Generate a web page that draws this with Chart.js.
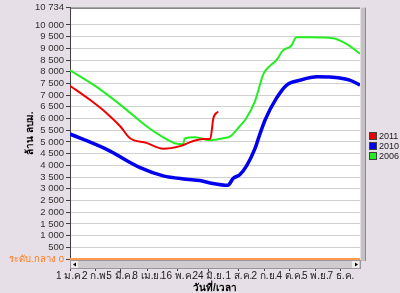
<!DOCTYPE html>
<html>
<head>
<meta charset="utf-8">
<script src="https://cdn.jsdelivr.net/npm/chart.js@4/dist/chart.umd.min.js"></script>
<style>
  html, body { margin: 0; padding: 0; background: #e7dfe7; }
  #wrap { width: 400px; height: 293px; }
</style>
</head>
<body>
<div id="wrap"><canvas id="dam-volume" width="400" height="293"></canvas></div>
<script>
// x = day of year (0 = 1 Jan), y = volume (million m3)
const days2011 = [0, 25, 46, 63, 75, 96, 117, 138, 154, 167, 176, 180, 186];
const vol2011 = [7400, 6800, 6230, 5670, 5170, 4960, 4710, 4820, 5030, 5130, 5130, 6020, 6300];

const days2010 = [0, 46, 88, 117, 146, 163, 176, 198, 205, 213, 222, 232, 238, 245, 259, 272, 289, 310, 330, 351, 364];
const vol2010 = [5340, 4680, 3900, 3550, 3410, 3350, 3250, 3150, 3450, 3600, 4000, 4700, 5300, 5950, 6860, 7430, 7640, 7780, 7760, 7640, 7430];

const days2006 = [0, 33, 66, 96, 117, 134, 142, 144, 157, 176, 191, 201, 213, 220, 232, 243, 251, 259, 267, 278, 284, 301, 330, 347, 364];
const vol2006 = [8060, 7360, 6510, 5670, 5200, 4920, 4900, 5150, 5200, 5070, 5150, 5240, 5670, 5950, 6720, 7920, 8250, 8490, 8900, 9120, 9470, 9470, 9430, 9190, 8770];

const tickDays = [0, 32, 63, 97, 135, 174, 212, 244, 276, 308, 340];
const tickLabels = ["1 ม.ค.", "2 ก.พ.", "5 มี.ค.", "8 เม.ย.", "16 พ.ค.", "24 มิ.ย.", "1 ส.ค.", "2 ก.ย.", "4 ต.ค.", "5 พ.ย.", "7 ธ.ค."];
const yTicks = [0, 500, 1000, 1500, 2000, 2500, 3000, 3500, 4000, 4500, 5000, 5500, 6000, 6500, 7000, 7500, 8000, 8500, 9000, 9500, 10000, 10734];

const seriesNames = ["2011", "2010", "2006"];
const seriesColors = ["#ee0000", "#0000ee", "#22ee22"];

const FONT = "Tahoma, 'Liberation Sans', 'Noto Sans', sans-serif";

const toPoints = (xs, ys) => xs.map((x, i) => ({ x: x, y: ys[i] }));

const fmt = (v) => String(v).replace(/\B(?=(\d{3})+(?!\d))/g, " ");

// plot background, orange base line, scroll bars, legend
const decor = {
  id: "decor",
  beforeDraw(chart) {
    const { ctx, chartArea: a } = chart;
    ctx.save();
    ctx.fillStyle = "#ffffff";
    ctx.fillRect(a.left, a.top, a.right - a.left, a.bottom - a.top);
    ctx.restore();
  },
  afterDraw(chart) {
    const { ctx, chartArea: a } = chart;
    ctx.save();
    // top border
    ctx.strokeStyle = "#505050";
    ctx.lineWidth = 1;
    ctx.beginPath();
    ctx.moveTo(a.left, a.top + 0.5);
    ctx.lineTo(a.right, a.top + 0.5);
    ctx.stroke();
    // orange zero line
    const y0 = chart.scales.y.getPixelForValue(0);
    ctx.strokeStyle = "#ff9a50";
    ctx.lineWidth = 2;
    ctx.beginPath();
    ctx.moveTo(a.left, y0);
    ctx.lineTo(a.right, y0);
    ctx.stroke();
    // horizontal scroll bar
    ctx.fillStyle = "#cfcbcf";
    ctx.fillRect(a.left, y0 + 1, a.right - a.left + 1, 9);
    ctx.strokeStyle = "#9a969a";
    ctx.lineWidth = 1;
    ctx.strokeRect(a.left + 0.5, y0 + 1.5, a.right - a.left, 8);
    ctx.fillStyle = "#eeeeee";
    ctx.fillRect(a.left + 1, y0 + 2, 7, 7);
    ctx.fillRect(a.right - 8, y0 + 2, 7, 7);
    ctx.fillStyle = "#000000";
    ctx.beginPath();
    ctx.moveTo(a.left + 3, y0 + 5.5);
    ctx.lineTo(a.left + 6, y0 + 3.5);
    ctx.lineTo(a.left + 6, y0 + 7.5);
    ctx.fill();
    ctx.beginPath();
    ctx.moveTo(a.right - 2, y0 + 5.5);
    ctx.lineTo(a.right - 5, y0 + 3.5);
    ctx.lineTo(a.right - 5, y0 + 7.5);
    ctx.fill();
    // vertical scroll bar
    ctx.fillStyle = "#c4c0c4";
    ctx.fillRect(a.right + 1, a.top, 5, y0 - a.top + 2);
    ctx.fillStyle = "#8e8a8e";
    ctx.fillRect(a.right + 5, a.top, 1, y0 - a.top + 2);
    // legend
    ctx.font = "9px " + FONT;
    ctx.textBaseline = "middle";
    seriesNames.forEach((name, i) => {
      const ly = 136 + i * 10;
      ctx.fillStyle = seriesColors[i];
      ctx.fillRect(370, ly - 3, 6, 6);
      ctx.strokeStyle = "#404040";
      ctx.strokeRect(369.5, ly - 3.5, 7, 7);
      ctx.fillStyle = "#202020";
      ctx.fillText(name, 379, ly + 0.5);
    });
    ctx.restore();
  },
};

const ctx = document.getElementById("dam-volume").getContext("2d");

new Chart(ctx, {
  type: "line",
  data: {
    datasets: [
      {
        label: seriesNames[0],
        data: toPoints(days2011, vol2011),
        borderColor: seriesColors[0],
        borderWidth: 2,
      },
      {
        label: seriesNames[1],
        data: toPoints(days2010, vol2010),
        borderColor: seriesColors[1],
        borderWidth: 3.5,
      },
      {
        label: seriesNames[2],
        data: toPoints(days2006, vol2006),
        borderColor: seriesColors[2],
        borderWidth: 2,
      },
    ],
  },
  options: {
    responsive: false,
    animation: false,
    layout: { padding: { left: 0, right: 40, top: 5, bottom: 0 } },
    elements: {
      point: { radius: 0 },
      line: { cubicInterpolationMode: "monotone", fill: false },
    },
    plugins: {
      legend: { display: false },
      tooltip: { enabled: false },
    },
    scales: {
      x: {
        type: "linear",
        min: 0,
        max: 364,
        afterBuildTicks: (scale) => {
          scale.ticks = tickDays.map((d) => ({ value: d }));
        },
        afterFit: (scale) => {
          scale.height = 34;
        },
        ticks: {
          autoSkip: false,
          maxRotation: 0,
          padding: 0,
          color: "#202020",
          font: { family: FONT, size: 10, lineHeight: 1.1 },
          callback: (value) => tickLabels[tickDays.indexOf(value)],
        },
        grid: {
          drawOnChartArea: false,
          tickLength: 12,
          tickColor: "#404040",
        },
        border: { display: false },
        title: {
          display: true,
          text: "วันที่/เวลา",
          color: "#000000",
          font: { family: FONT, size: 10, weight: "bold", lineHeight: 1 },
          padding: { top: 0, bottom: 0 },
        },
      },
      y: {
        min: 0,
        max: 10734,
        afterBuildTicks: (scale) => {
          scale.ticks = yTicks.map((v) => ({ value: v }));
        },
        afterFit: (scale) => {
          scale.width = 70;
        },
        ticks: {
          autoSkip: false,
          padding: 2,
          color: (c) => (c.tick && c.tick.value === 0 ? "#ff7a1a" : "#303030"),
          font: { family: FONT, size: 9.5 },
          callback: (value) => (value === 0 ? "ระดับ.กลาง 0" : fmt(value)),
        },
        grid: {
          color: "#d0d0d0",
          tickColor: "#404040",
          tickLength: 4,
        },
        border: { color: "#404040", width: 1 },
        title: {
          display: true,
          text: "ล้าน ลบม.",
          color: "#000000",
          font: { family: FONT, size: 10, weight: "bold" },
          padding: { top: 24, bottom: 0 },
        },
      },
    },
  },
  plugins: [decor],
});
</script>
</body>
</html>
